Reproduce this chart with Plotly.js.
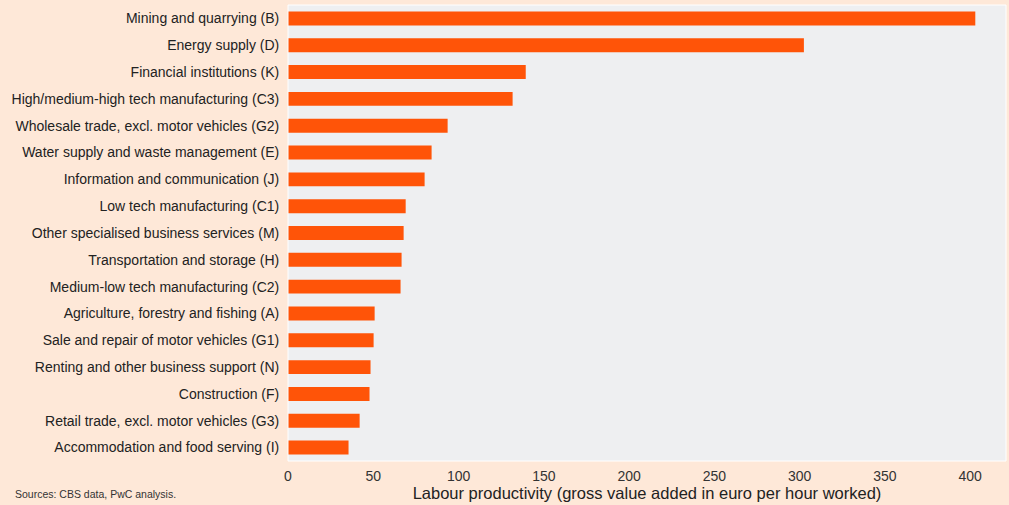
<!DOCTYPE html>
<html>
<head>
<meta charset="utf-8">
<script src="https://cdn.plot.ly/plotly-3.0.1.min.js"></script>
<style>html,body{margin:0;padding:0;background:#FEE8D8;}</style>
</head>
<body>
<div id="chart" style="width:1009px;height:505px;"></div>
<script>
const sectors = [
  "Mining and quarrying (B)",
  "Energy supply (D)",
  "Financial institutions (K)",
  "High/medium-high tech manufacturing (C3)",
  "Wholesale trade, excl. motor vehicles (G2)",
  "Water supply and waste management (E)",
  "Information and communication (J)",
  "Low tech manufacturing (C1)",
  "Other specialised business services (M)",
  "Transportation and storage (H)",
  "Medium-low tech manufacturing (C2)",
  "Agriculture, forestry and fishing (A)",
  "Sale and repair of motor vehicles (G1)",
  "Renting and other business support (N)",
  "Construction (F)",
  "Retail trade, excl. motor vehicles (G3)",
  "Accommodation and food serving (I)"
];
const productivity = [403, 302.5, 139.4, 131.7, 93.6, 84.2, 80.1, 69.0, 67.8, 66.6, 66.0, 50.8, 50.2, 48.4, 47.8, 42.0, 35.5];
const xTicks = [0, 50, 100, 150, 200, 250, 300, 350, 400];
const xTitle = "Labour productivity (gross value added in euro per hour worked)";
const sourceNote = "Sources: CBS data, PwC analysis.";

const trace = {
  type: "bar",
  orientation: "h",
  y: sectors,
  x: productivity,
  marker: {color: "#FF5408"},
  width: 0.52,
  hoverinfo: "x+y"
};

const layout = {
  width: 1009,
  height: 505,
  paper_bgcolor: "#FEE8D8",
  plot_bgcolor: "#EEEFF1",
  margin: {l: 288, r: 3, t: 5, b: 44},
  font: {family: "Liberation Sans, Arial, sans-serif", color: "#333333"},
  showlegend: false,
  bargap: 0.48,
  xaxis: {
    range: [0, 421],
    tickvals: xTicks,
    ticktext: xTicks.map(String),
    showgrid: false,
    zeroline: false,
    showline: false,
    ticks: "",
    ticklabelstandoff: 5,
    tickfont: {size: 14, color: "#333333"},
    title: {text: xTitle, font: {size: 16.5, color: "#222222"}, standoff: 2}
  },
  yaxis: {
    autorange: "reversed",
    showgrid: false,
    zeroline: false,
    showline: false,
    ticks: "",
    ticksuffix: "  ",
    tickfont: {size: 14, color: "#222222"}
  },
  shapes: [{
    type: "rect", xref: "paper", yref: "paper", x0: 0, x1: 1, y0: 0, y1: 1,
    line: {color: "#FFFFFF", width: 1}, fillcolor: "rgba(0,0,0,0)", layer: "above"
  }],
  annotations: [{
    text: sourceNote, xref: "paper", yref: "paper",
    x: -275/718, y: -33/456, xanchor: "left", yanchor: "middle",
    showarrow: false, font: {size: 10.5, color: "#333333"}
  }]
};

Plotly.newPlot("chart", [trace], layout, {displayModeBar: false, staticPlot: true});
</script>
</body>
</html>
